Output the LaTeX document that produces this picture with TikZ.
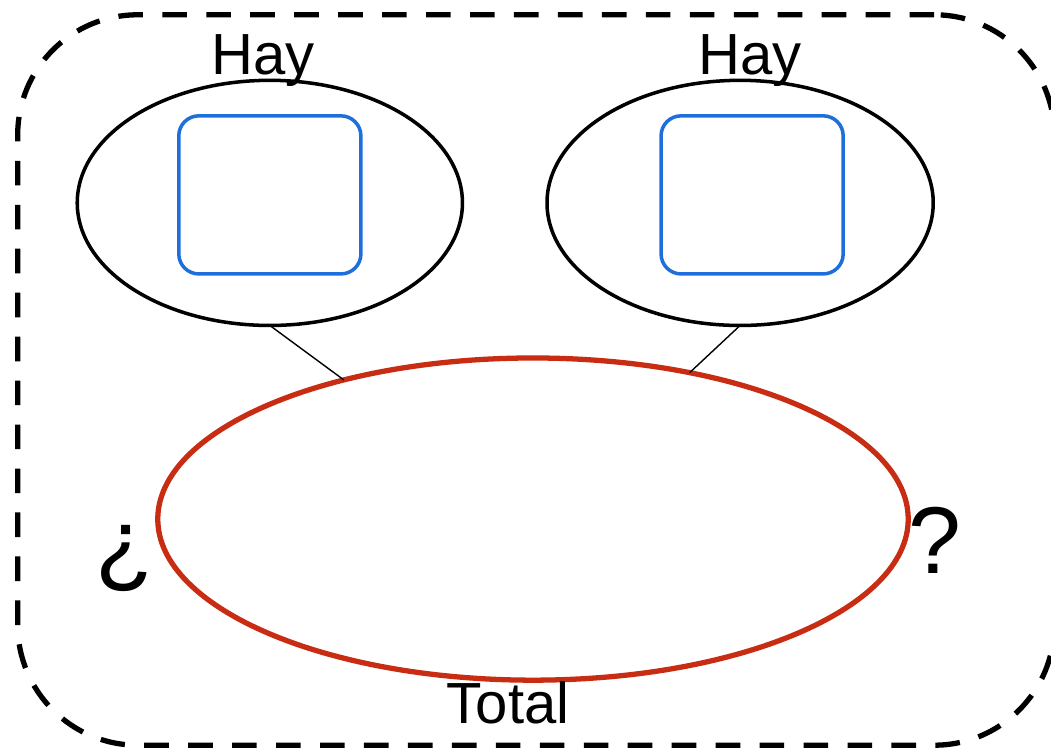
\documentclass[tikz,border=0pt]{standalone}
\usepackage{fontspec}
\setmainfont{Liberation Sans}
\usetikzlibrary{positioning}
\usetikzlibrary{shapes.geometric}
\definecolor{boxblue}{RGB}{30,110,220}
\definecolor{sumred}{RGB}{200,45,20}
\tikzset{frame/.style={draw, dashed, line width=1.5pt, rounded corners=1.2cm, dash pattern=on 7pt off 5.5pt, inner sep=0pt, outer sep=0pt}}
\tikzset{bubble/.style={draw, ellipse, line width=1pt, inner sep=0pt, outer sep=0pt}}
\tikzset{answer/.style={draw=boxblue, line width=1pt, rounded corners=0.2cm, inner sep=0pt}}
\tikzset{word/.style={font=\fontsize{16.5}{18}\selectfont, anchor=base}}
\tikzset{sign/.style={font=\fontsize{27}{30}\selectfont}}
\tikzset{connect/.style={draw, line width=0.4pt}}

\begin{document}
\begin{tikzpicture}[x=0.01cm,y=-0.01cm]
\useasboundingbox (0,0) rectangle (1051,752);

\node[frame,minimum height=7.3cm,minimum width=10.36cm] (top) at (536,380) {};

%parts
\node[bubble,minimum height=2.45cm,minimum width=3.85cm] (left) at([xshift=-2.66cm,yshift=1.77cm]top) {};
\node[bubble,minimum height=2.45cm,minimum width=3.86cm] (right) at([xshift=2.04cm,yshift=1.77cm]top) {};
\node[answer,minimum height=1.58cm,minimum width=1.82cm] (leftbox) at([yshift=0.08cm]left) {};
\node[answer,minimum height=1.58cm,minimum width=1.82cm] (rightbox) at([xshift=0.12cm,yshift=0.08cm]right) {};

%whole
\node[bubble,draw=sumred,line width=1.5pt,minimum height=3.22cm,minimum width=7.5cm] (sum) at([xshift=-0.03cm,yshift=-1.39cm]top) {};

%texts
\node[word] (lefthay) at([xshift=-0.07cm,yshift=0.06cm]left.north) {Hay};
\node[word] (righthay) at([xshift=0.1cm,yshift=0.06cm]right.north) {Hay};
\node[word] (total) at([xshift=-0.25cm,yshift=-0.43cm]sum.south) {Total};
\node[sign] (open) at([xshift=-0.33cm,yshift=-0.39cm]sum.west) {¿};
\node[sign] (close) at([xshift=0.27cm,yshift=-0.21cm]sum.east) {?};

%links
\path[connect] (left.south) -- (sum);
\path[connect] (right.south) -- (sum);

\end{tikzpicture}
\end{document}
